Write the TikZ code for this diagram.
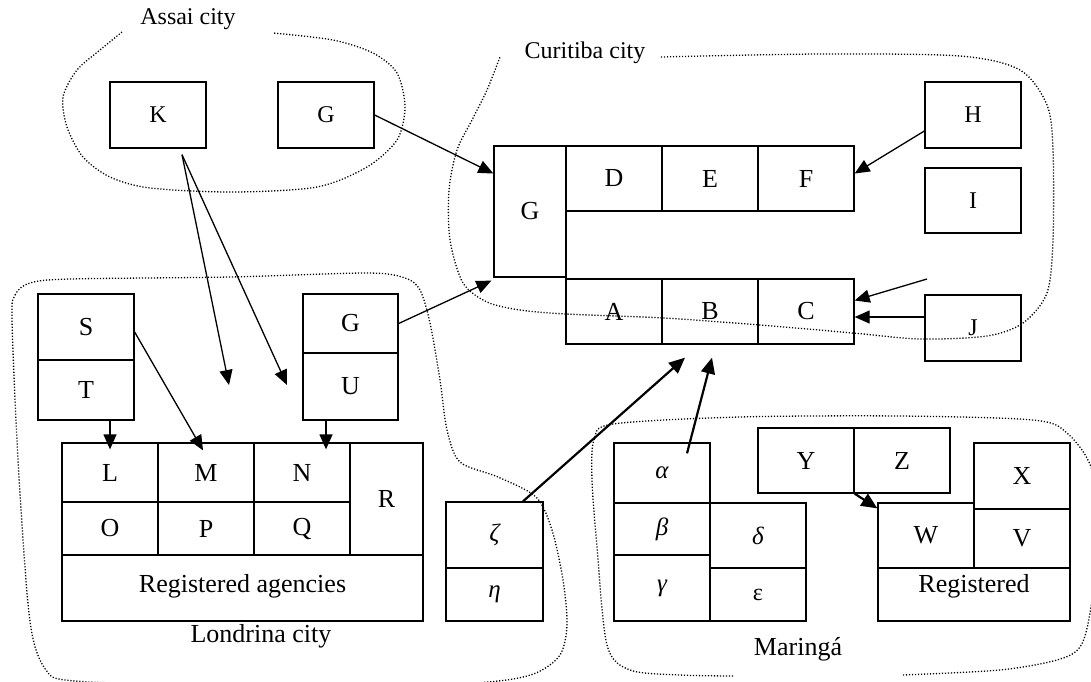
\documentclass[tikz,border=0pt]{standalone}
\usepackage{fontspec}
\setmainfont{Liberation Serif}
\usetikzlibrary{arrows.meta}

\begin{document}
\begin{tikzpicture}[x=1pt, y=-1pt,
    cell/.style={draw, line width=1.3pt, inner sep=0pt, font=\fontsize{26}{30}\selectfont},
    small/.style={font=\fontsize{24}{28}\selectfont},
    greek/.style={font=\fontsize{25}{28}\selectfont\itshape},
    dims/.style 2 args={minimum width=#1pt, minimum height=#2pt},
    region/.style={line width=1.3pt, dash pattern=on 1.2pt off 1.8pt},
    caption/.style={anchor=base, inner sep=0pt, font=\fontsize{26}{30}\selectfont},
    link/.style={line width=1.3pt, -{Triangle[length=15pt, width=13pt]}},
    heavylink/.style={line width=2.2pt, -{Triangle[length=16pt, width=14pt]}}
]
\useasboundingbox (0,0) rectangle (1091,681);
\clip (0,0) rectangle (1091,681);

% (1) Assai city
\draw[region] plot[smooth] coordinates {(122,32) (100,50) (77,70) (63,97) (67,127) (83,157)
    (110,177) (150,188) (233,192) (317,187) (367,167) (397,140) (405,107) (397,73)
    (373,53) (333,40) (273,33)};
\node[caption, small] (assai) at (188,24) {Assai city};
\node[cell, small, dims={96}{66}] (k) at (158,115) {K};
\node[cell, small, dims={96}{66}] (ga) at (326,115) {G};

% (2) Curitiba city
\draw[region] plot[smooth] coordinates {(661,57) (820,54) (960,56) (1020,70) (1047,105)
    (1053,150) (1053,240) (1047,293) (1023,323) (987,336) (920,339) (853,333) (760,325)
    (664,318) (566,314) (520,310) (487,302) (463,283) (450,240) (449,190) (457,150)
    (472,120) (487,90) (500,57)};
\node[caption, small] (curitiba) at (585,58) {Curitiba city};
\node[cell, dims={72}{131}] (gc) at (530,211.5) {G};
\node[cell, dims={96}{65}] (d) at (614,178.5) {D};
\node[cell, dims={96}{65}] (e) at (710,178.5) {E};
\node[cell, dims={96}{65}] (f) at (806,178.5) {F};
\node[cell, dims={96}{65}] (a) at (614,311.5) {A};
\node[cell, dims={96}{65}] (b) at (710,311.5) {B};
\node[cell, dims={96}{65}] (c) at (806,311.5) {C};
\node[cell, small, dims={96}{66}] (h) at (973,115) {H};
\node[cell, small, dims={96}{65}] (i) at (973,200.5) {I};
\node[cell, small, dims={96}{66}] (j) at (973,328) {J};
\coordinate (cin) at (927,279);

% (3) Londrina city
\draw[region] plot[smooth cycle] coordinates {(12,320) (15,295) (30,283) (70,279) (230,277)
    (367,273) (405,278) (420,290) (430,323) (440,380) (447,430) (460,462) (498,477)
    (536,497) (552,530) (563,580) (567,625) (560,655) (536,673) (498,681) (420,685)
    (160,684) (65,680) (46,670) (34,643) (27,593) (18,460)};
\node[cell, dims={96}{66}] (s) at (86,327) {S};
\node[cell, dims={96}{60}] (t) at (86,390) {T};
\node[cell, dims={95}{59}] (gl) at (350.5,323.5) {G};
\node[cell, dims={95}{67}] (u) at (350.5,386.5) {U};
\node[cell, dims={96}{59}] (l) at (110,472.5) {L};
\node[cell, dims={96}{59}] (m) at (206,472.5) {M};
\node[cell, dims={96}{59}] (n) at (302,472.5) {N};
\node[cell, dims={96}{53}] (o) at (110,528.5) {O};
\node[cell, dims={96}{53}] (p) at (206,528.5) {P};
\node[cell, dims={96}{53}] (q) at (302,528.5) {Q};
\node[cell, dims={73}{112}] (r) at (386.5,499) {R};
\node[cell, dims={361}{66}, text height=18pt, text depth=10pt] (regl) at (242.5,588) {Registered agencies};
\node[cell, greek, dims={97}{66}] (zeta) at (494.5,535) {ζ};
\node[cell, greek, dims={97}{53}] (eta) at (494.5,594.5) {η};
\node[caption] (londrina) at (261,642) {Londrina city};
\coordinate (klt) at (229,385);
\coordinate (krt) at (287,385);

% (4) Maringa
\draw[region] plot[smooth] coordinates {(903,675) (1000,670) (1057,660) (1080,647) (1090,613)
    (1098,540) (1092,470) (1067,433) (1033,420) (900,416) (740,417) (613,424) (594,440)
    (592,480) (597,547) (607,645) (630,670) (680,675) (733,676)};
\node[cell, greek, dims={96}{60}] (alpha) at (662,473) {α};
\node[cell, greek, dims={96}{52}] (beta) at (662,529) {β};
\node[cell, greek, dims={96}{66}] (gamma) at (662,588) {γ};
\node[cell, dims={96}{65}, greek] (delta) at (758,535.5) {δ};
\node[cell, dims={96}{53}, small] (eps) at (758,594.5) {ε};
\node[cell, dims={96}{65}] (y) at (806,460.5) {Y};
\node[cell, dims={96}{65}] (z) at (902,460.5) {Z};
\node[cell, dims={96}{66}] (x) at (1022,476) {X};
\node[cell, dims={96}{59}] (v) at (1022,538.5) {V};
\node[cell, dims={96}{65}] (w) at (926,535.5) {W};
\node[cell, dims={192}{53}, text height=18pt, text depth=23pt] (regm) at (974,594.5) {Registered};
\node[caption] (maringa) at (798,655) {Maringá};

% links
\draw[link] (ga.east) -- ([yshift=38pt]gc.west);
\draw[link] ([xshift=24pt,yshift=-6pt]k.south) -- (klt);
\draw[link] ([xshift=24pt,yshift=-6pt]k.south) -- (krt);
\draw[link] ([yshift=-5pt]s.east) -- ([xshift=-3pt,yshift=-8pt]m.north);
\draw[link] ([xshift=24pt]t.south) -- ([yshift=-7pt]l.north);
\draw[link] ([xshift=-24.5pt]u.south) -- ([xshift=24pt,yshift=-7pt]n.north);
\draw[link] (gl.east) -- ([xshift=-2pt,yshift=-3pt]gc.south west);
\draw[link] ([yshift=-16pt]h.west) -- ([yshift=5pt]f.east);
\draw[link] (cin) -- ([yshift=11pt]c.east);
\draw[link] ([yshift=11pt]j.west) -- ([yshift=-5.5pt]c.east);
\draw[heavylink] ([xshift=28.5pt]zeta.north) -- ([xshift=-25pt,yshift=-13pt]b.south);
\draw[heavylink] ([xshift=25pt,yshift=-11pt]alpha.north) -- ([xshift=2pt,yshift=-13pt]b.south);
\draw[heavylink] (y.south east) -- ([yshift=-6pt]w.north west);

\end{tikzpicture}
\end{document}
